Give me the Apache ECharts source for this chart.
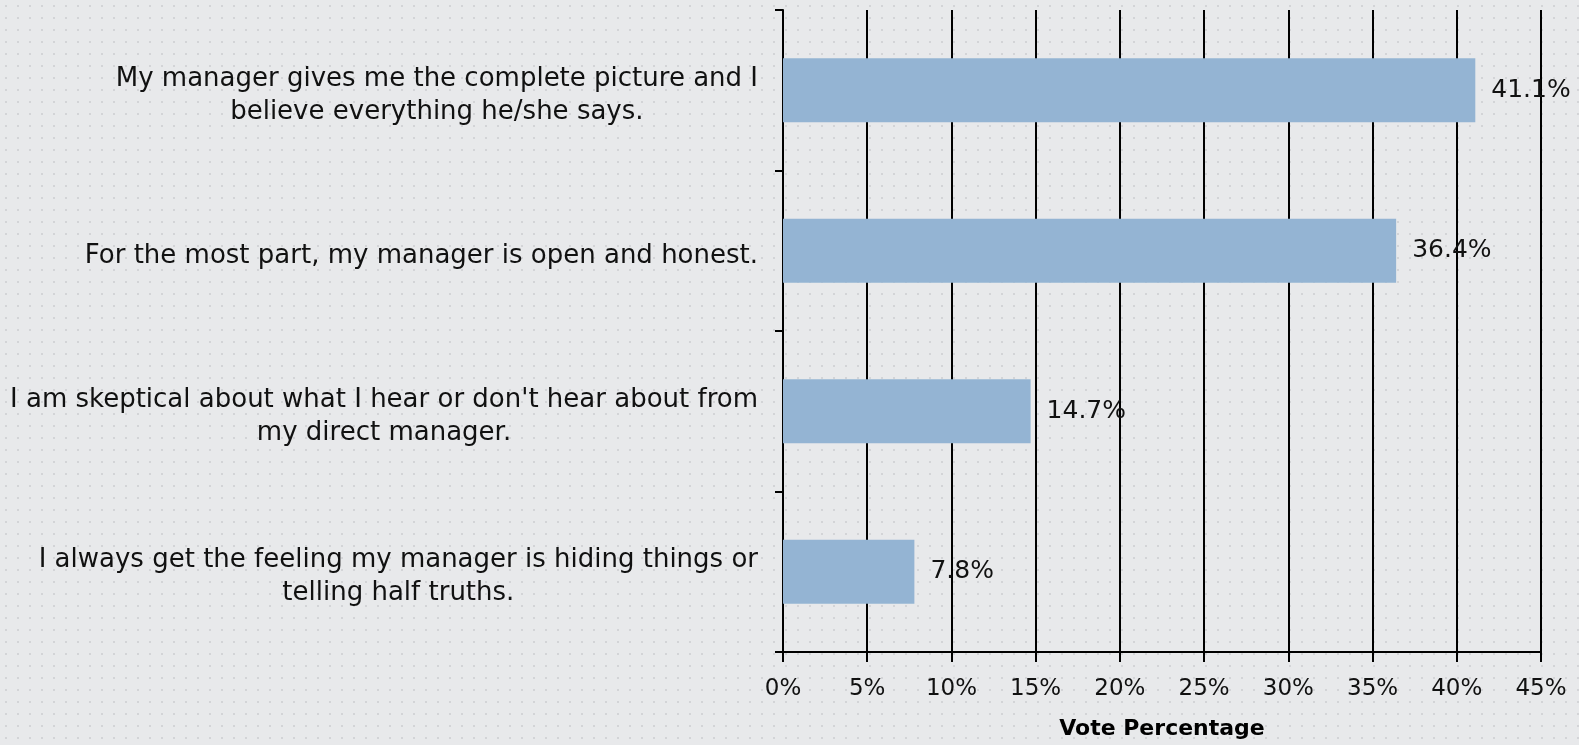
<!DOCTYPE html>
<html>
<head>
<meta charset="utf-8">
<script src="https://cdn.jsdelivr.net/npm/echarts@6/dist/echarts.min.js"></script>
<style>
  html, body { margin: 0; padding: 0; }
  #chart { width: 1579px; height: 745px; }
</style>
</head>
<body>
<div id="chart"></div>
<script>
// survey answers, top to bottom
const answers = [
  ['My manager gives me the complete picture and I', 'believe everything he/she says.'],
  ['For the most part, my manager is open and honest.'],
  ['I am skeptical about what I hear or don\'t hear about from', 'my direct manager.'],
  ['I always get the feeling my manager is hiding things or', 'telling half truths.']
]
const votePct = [41.1, 36.4, 14.7, 7.8]
const xTicks = [0, 5, 10, 15, 20, 25, 30, 35, 40, 45]

const font = 'DejaVu Sans'

// dotted background like the slide
const pat = document.createElement('canvas')
pat.width = 12
pat.height = 12
const ctx = pat.getContext('2d')
ctx.fillStyle = '#e8e9eb'
ctx.fillRect(0, 0, 12, 12)
ctx.fillStyle = '#d3d4d7'
ctx.fillRect(5, 5, 2, 2)

const chart = echarts.init(document.getElementById('chart'))

chart.setOption({
  backgroundColor: { image: pat, repeat: 'repeat' },
  animation: false,
  grid: { left: 783, right: 38, top: 10, bottom: 92 },
  xAxis: {
    type: 'value',
    min: xTicks[0],
    max: xTicks[xTicks.length - 1],
    interval: 5,
    name: 'Vote Percentage',
    nameLocation: 'middle',
    nameGap: 66,
    nameTextStyle: { fontFamily: font, fontSize: 22, fontWeight: 'bold', color: '#000' },
    axisLine: { show: true, lineStyle: { color: '#000', width: 2 } },
    axisTick: { show: true, length: 10, lineStyle: { color: '#000', width: 2 } },
    axisLabel: {
      formatter: '{value}%', margin: 26,
      fontFamily: font, fontSize: 23, color: '#111'
    },
    splitLine: { show: true, lineStyle: { color: '#000', width: 2 } }
  },
  yAxis: {
    type: 'category',
    inverse: true,
    data: answers.map(a => a.join('\n')),
    axisLine: { show: true, lineStyle: { color: '#000', width: 2 } },
    axisTick: { show: true, length: 8, lineStyle: { color: '#000', width: 2 } },
    axisLabel: {
      margin: 25,
      padding: [10, 0, 0, 0],
      formatter: v => v.split('\n').map(s => '{c|' + s + '}').join('\n'),
      rich: {
        c: { align: 'center', fontFamily: font, fontSize: 26, color: '#111', lineHeight: 33 }
      }
    }
  },
  series: [{
    type: 'bar',
    data: votePct,
    barWidth: '40%',
    itemStyle: { color: '#94b4d3' },
    label: {
      show: true,
      position: 'right',
      distance: 16,
      formatter: p => p.value + '%',
      fontFamily: font, fontSize: 25, color: '#111'
    }
  }]
})
</script>
</body>
</html>
